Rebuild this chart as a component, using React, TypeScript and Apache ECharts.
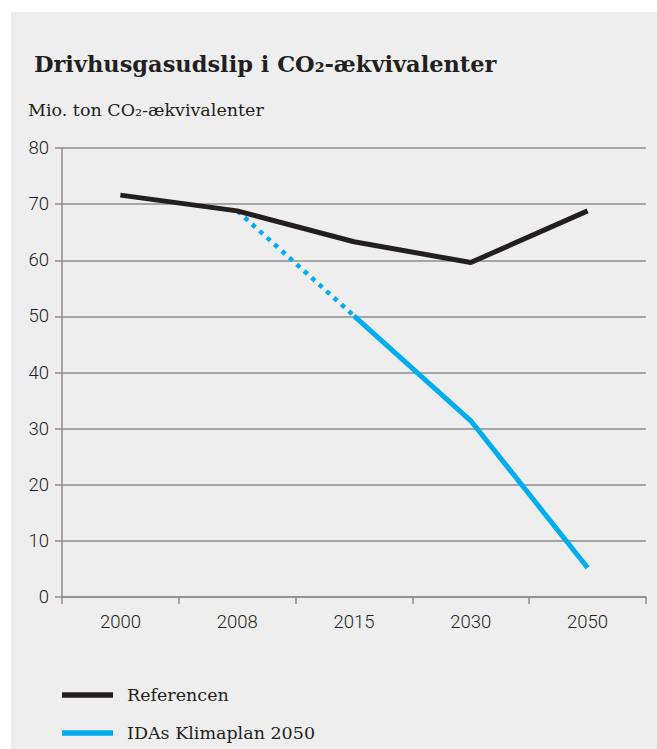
import React, { useEffect, useRef } from "react";
import * as echarts from "echarts";

const categories = ["2000", "2008", "2015", "2030", "2050"];
const referencen = [71.6, 68.8, 63.3, 59.6, 68.8];
const idaDotted = [null, 68.8, 50.1, null, null];
const idaSolid = [null, null, 50.1, 31.4, 5.2];
const yTicks = { min: 0, max: 80, interval: 10 };

const titleText = "Drivhusgasudslip i CO₂-ækvivalenter";
const unitText = "Mio. ton CO₂-ækvivalenter";

export default function App() {
  const ref = useRef<HTMLDivElement>(null);
  useEffect(() => {
    if (!ref.current) return;
    const chart = echarts.init(ref.current, null, { renderer: "svg" });
    const black = "#231f20";
    const blue = "#00aeef";
    const gridGray = "#8c8c8c";
    chart.setOption({
      animation: false,
      backgroundColor: "#ffffff",
      graphic: [
        { type: "rect", left: 11, top: 12, shape: { width: 646, height: 737 }, style: { fill: "#eeeeee" }, z: -10 },
        { type: "text", left: 34, top: 52, style: { text: titleText, fontFamily: "DejaVu Serif", fontWeight: "bold", fontSize: 22.5, fill: "#231f20" } },
        { type: "text", left: 28, top: 101, style: { text: unitText, fontFamily: "DejaVu Serif", fontSize: 17.5, fill: "#231f20" } },
      ],
      grid: { left: 62, right: 11, top: 148, bottom: 152 },
      legend: {
        orient: "vertical",
        left: 62,
        top: 683,
        padding: 0,
        itemGap: 14,
        itemWidth: 51,
        itemHeight: 5.5,
        icon: "rect",
        data: ["Referencen", "IDAs Klimaplan 2050"],
        textStyle: { fontFamily: "DejaVu Serif", fontSize: 17.5, lineHeight: 24, color: "#231f20", padding: [0, 0, 0, 9] },
      },
      xAxis: {
        type: "category",
        data: categories,
        boundaryGap: true,
        axisLine: { show: true, lineStyle: { color: gridGray, width: 1.5 } },
        axisTick: { show: true, length: 7, interval: 0, lineStyle: { color: gridGray, width: 1.5 } },
        axisLabel: { margin: 15, fontFamily: "Roboto", fontWeight: 300, fontSize: 18.5, color: "#231f20" },
      },
      yAxis: {
        type: "value",
        min: yTicks.min,
        max: yTicks.max,
        interval: yTicks.interval,
        axisLine: { show: true, lineStyle: { color: gridGray, width: 1.5 } },
        axisTick: { show: true, length: 7, lineStyle: { color: gridGray, width: 1.5 } },
        splitLine: { show: true, lineStyle: { color: gridGray, width: 1.5 } },
        axisLabel: { margin: 13, fontFamily: "Roboto", fontWeight: 300, fontSize: 18.5, color: "#231f20" },
      },
      series: [
        {
          name: "Referencen",
          type: "line",
          data: referencen,
          showSymbol: false,
          symbol: "none",
          color: black,
          lineStyle: { color: black, width: 5 },
          z: 3,
        },
        {
          name: "IDAs Klimaplan 2050",
          type: "line",
          data: idaDotted,
          showSymbol: false,
          symbol: "none",
          color: blue,
          lineStyle: { color: blue, width: 4.5, type: [4.5, 5.5], cap: "butt" },
          z: 2,
        },
        {
          name: "IDAs Klimaplan 2050",
          type: "line",
          data: idaSolid,
          showSymbol: false,
          symbol: "none",
          color: blue,
          lineStyle: { color: blue, width: 5 },
          z: 2,
        },
      ],
    });
    return () => chart.dispose();
  }, []);
  return <div ref={ref} style={{ position: "absolute", left: 0, top: 0, width: 657, height: 749 }} />;
}
